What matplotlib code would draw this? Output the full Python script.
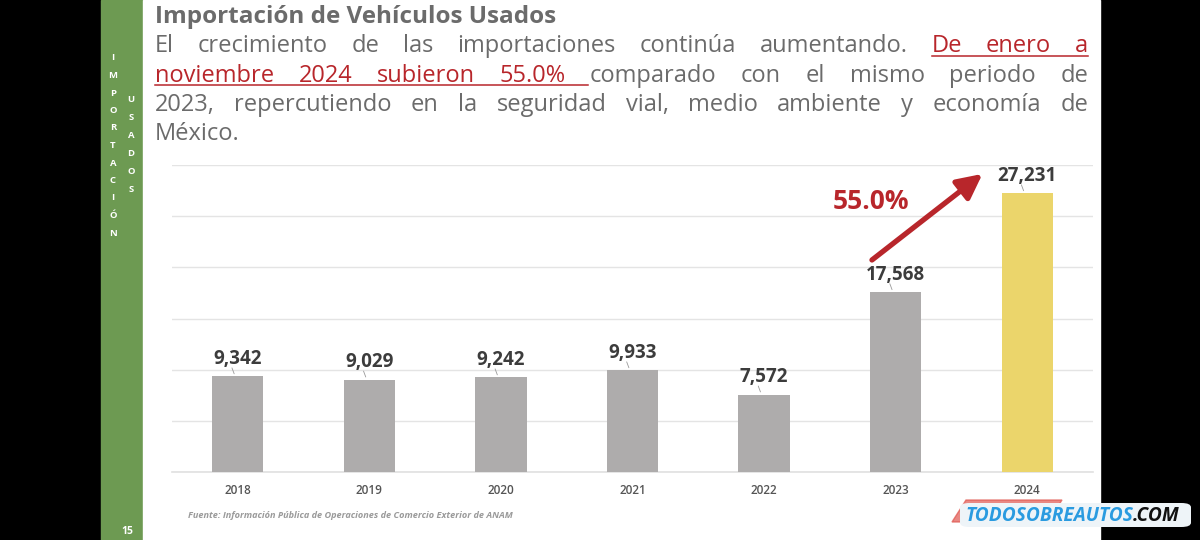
import matplotlib
matplotlib.use("Agg")
import matplotlib.pyplot as plt
from matplotlib.patches import Rectangle, FancyBboxPatch, Polygon

# ── 資料 ──────────────────────────────────────────────────────────────────
years = ["2018", "2019", "2020", "2021", "2022", "2023", "2024"]
imports = [9342, 9029, 9242, 9933, 7572, 17568, 27231]
growth_label = "55.0%"

title = "Importación de Vehículos Usados"
# (texto, color, subrayado)
body_lines = [
    [("El crecimiento de las importaciones continúa aumentando.", "gray", False),
     ("De enero a", "red", True)],
    [("noviembre 2024 subieron 55.0%", "red", True),
     ("comparado con el mismo periodo de", "gray", False)],
    [("2023, repercutiendo en la seguridad vial, medio ambiente y economía de", "gray", False)],
    [("México.", "gray", False)],
]
side_1 = "IMPORTACIÓN"
side_2 = "USADOS"
page_num = "15"
source = "Fuente: Información Pública de Operaciones de Comercio Exterior de ANAM"

# ── 樣式 ──────────────────────────────────────────────────────────────────
plt.rcParams["font.family"] = ["Open Sans", "DejaVu Sans"]
W, H = 1200, 540
GRAY_TXT = "#6b6b6b"
RED = "#b8262b"
BAR_GRAY = "#aeacac"
BAR_HI = "#ebd56b"
COLORS = {"gray": GRAY_TXT, "red": RED}

def fx(px):
    return px / W

def fy(py):
    return 1 - py / H

fig = plt.figure(figsize=(12, 5.4), dpi=100, facecolor="black")

# 投影片背景
fig.patches.append(Rectangle((fx(101), 0), fx(42), 1, transform=fig.transFigure,
                             color="#6d9a52", zorder=-10))
fig.patches.append(Rectangle((fx(143), 0), fx(1100 - 143), 1, transform=fig.transFigure,
                             color="white", zorder=-10))

# 側欄直排字
for i, ch in enumerate(side_1):
    fig.text(fx(113), fy(58 + i * 17.5), ch, color="white", fontsize=6.8,
             fontweight="bold", ha="center", va="center")
for i, ch in enumerate(side_2):
    fig.text(fx(131), fy(100 + i * 18), ch, color="white", fontsize=6.8,
             fontweight="bold", ha="center", va="center")
fig.text(fx(127), fy(532), page_num, color="white", fontsize=7.5,
         fontweight="bold", ha="center", va="center")

# ── 長條圖 ────────────────────────────────────────────────────────────────
ax = fig.add_axes([fx(172), fy(472), fx(1093 - 172), (472 - 165) / H])
ax.set_facecolor("none")
x = list(range(len(years)))
colors = [BAR_GRAY] * (len(years) - 1) + [BAR_HI]
ax.bar(x, imports, width=0.39, color=colors, zorder=3)
ax.set_xlim(-0.5, len(years) - 0.5)
ax.set_ylim(0, 30000)
ax.set_yticks(range(0, 30001, 5000))
ax.yaxis.grid(True, color="#e4e4e4", linewidth=1.0, zorder=0)
ax.axhline(0, color="#e0e0e0", linewidth=1.2, zorder=2, clip_on=False)
ax.set_axisbelow(True)
for s in ax.spines.values():
    s.set_visible(False)
ax.tick_params(axis="y", left=False, labelleft=False)
ax.tick_params(axis="x", bottom=False, pad=5)
ax.set_xticks(x)
ax.set_xticklabels(years, fontsize=8.5, color="#555555", fontweight="semibold")

for xi, v in zip(x, imports):
    ax.annotate(f"{v:,}", (xi, v), xytext=(0, 9), textcoords="offset points",
                ha="center", va="baseline", fontsize=13.5, fontweight="bold",
                color="#3c3c3c", zorder=5)
    ax.annotate("", (xi - 0.02, v), xytext=(-3, 8), textcoords="offset points",
                arrowprops=dict(arrowstyle="-", color="#9a9a9a", lw=0.6))

# 成長箭頭
ax.annotate("", xy=(6 - 0.34, imports[6] + 1900), xytext=(5 - 0.18, imports[5] + 3150),
            arrowprops=dict(arrowstyle="-|>,head_length=1.5,head_width=0.75",
                            color=RED, lw=3.8, shrinkA=0, shrinkB=0), zorder=6)
ax.text(4.81, 25700, growth_label, color=RED, fontsize=19, fontweight="bold",
        ha="center", va="baseline", zorder=6)

# ── 標題與說明文字（兩端對齊） ────────────────────────────────────────────
fig.text(fx(155), fy(23), title, color=GRAY_TXT, fontsize=17.5, fontweight="bold",
         ha="left", va="baseline")

fig.canvas.draw()
renderer = fig.canvas.get_renderer()
LEFT, RIGHT = 155, 1088
BODY_FS = 17
for li, segs in enumerate(body_lines):
    y_base = 52 + li * 29.5
    words = []
    for si, (txt, col, ul) in enumerate(segs):
        for w in txt.split():
            words.append((w, col, ul, si))
    arts = [fig.text(0, fy(y_base), w, color=COLORS[c], fontsize=BODY_FS,
                     ha="left", va="baseline") for w, c, ul, si in words]
    widths = [a.get_window_extent(renderer).width for a in arts]
    last = li == len(body_lines) - 1
    if last or len(words) == 1:
        gap = 7
    else:
        gap = (RIGHT - LEFT - sum(widths)) / (len(words) - 1)
    pos = LEFT
    starts = []
    for a, w in zip(arts, widths):
        a.set_x(fx(pos))
        starts.append(pos)
        pos += w + gap
    # 底線
    for si, (txt, col, ul) in enumerate(segs):
        if not ul:
            continue
        idx = [k for k, wd in enumerate(words) if wd[3] == si]
        x0 = starts[idx[0]]
        x1 = starts[idx[-1]] + widths[idx[-1]]
        if idx[-1] + 1 < len(words):
            x1 = starts[idx[-1] + 1] - 2
        fig.add_artist(plt.Line2D([fx(x0), fx(x1)], [fy(y_base + 3.5)] * 2,
                                  transform=fig.transFigure, color=COLORS[col], lw=1.1))

# 資料來源
fig.text(fx(188), fy(516), source, color="#9a9a9a", fontsize=6.6, fontstyle="italic",
         fontweight="bold", ha="left", va="center")

# 浮水印
fig.patches.append(Polygon([[fx(952), fy(522)], [fx(966), fy(500)], [fx(1062), fy(500)],
                            [fx(1048), fy(522)]], closed=True, transform=fig.transFigure,
                           color="#e0564f", alpha=0.7, zorder=1))
fig.patches.append(FancyBboxPatch((fx(960), fy(527)), fx(231), (527 - 503) / H,
                                  boxstyle="round,pad=0,rounding_size=0.008",
                                  transform=fig.transFigure, fc="#eef4f8", ec="none",
                                  zorder=2))
wm = fig.text(fx(965), fy(516), "TODOSOBREAUTOS", color="#2a9be0", fontsize=13.8,
              fontstyle="italic", fontweight="bold", ha="left", va="center", zorder=3)
fig.canvas.draw()
wm_w = wm.get_window_extent(renderer).width
fig.text(fx(965 + wm_w), fy(516), ".COM", color="#111111", fontsize=13.8,
         fontstyle="italic", fontweight="bold", ha="left", va="center", zorder=3)

fig.savefig("out.png", dpi=100, facecolor="black")
